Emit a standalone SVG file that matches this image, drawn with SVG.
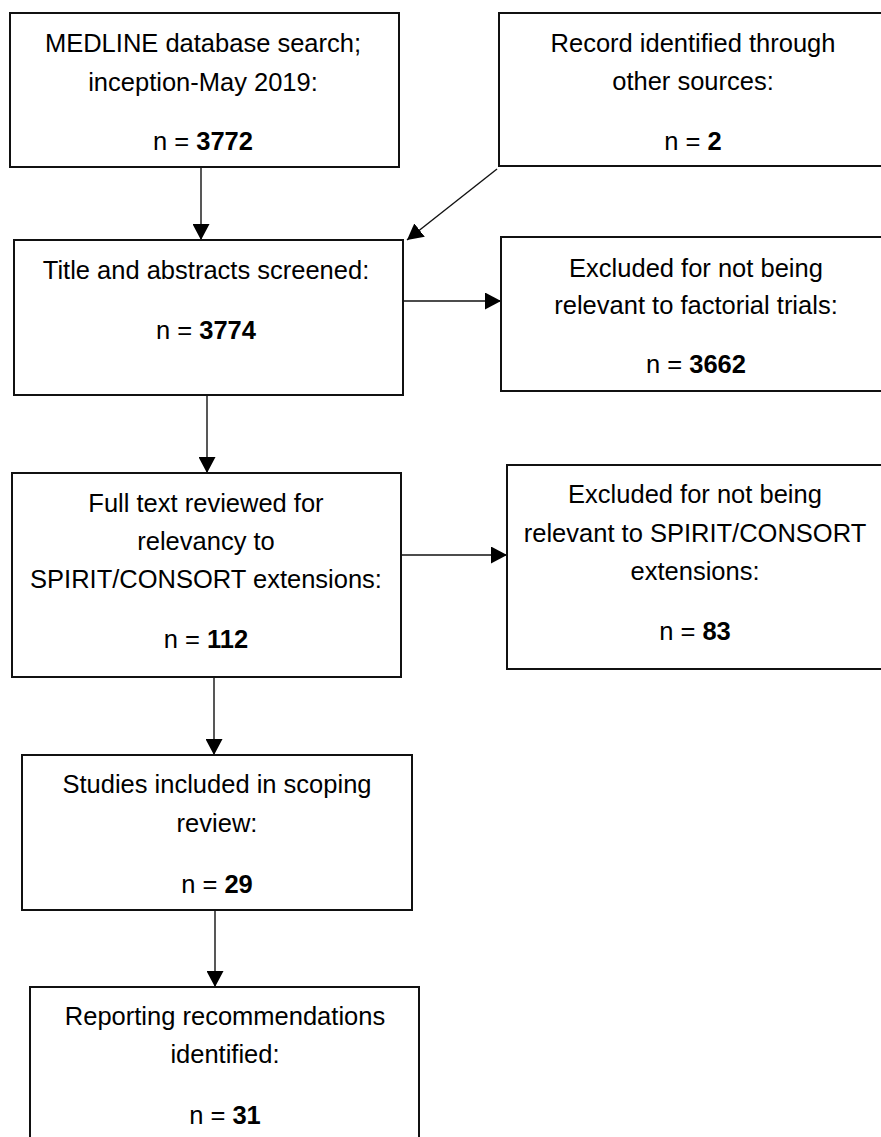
<svg xmlns="http://www.w3.org/2000/svg" width="881" height="1137" viewBox="0 0 881 1137">
<style>
.box{fill:#fff;stroke:#111;stroke-width:2}
.t{font-family:"Liberation Sans",Arial,sans-serif;font-size:25.5px;text-anchor:middle;fill:#000}
.b{font-weight:bold}
.c{stroke:#111;stroke-width:1.4;fill:none}
</style>
<defs>
<marker id="ah" markerUnits="userSpaceOnUse" markerWidth="16" markerHeight="17" refX="16" refY="8.5" orient="auto" viewBox="0 0 16 17">
<path d="M0,0 L16,8.5 L0,17 z" fill="#000"/>
</marker>
</defs>
<rect width="881" height="1137" fill="#fff"/>
<g id="connectors">
<line class="c" x1="201" y1="167" x2="201" y2="240" marker-end="url(#ah)"/>
<line class="c" x1="497" y1="169" x2="407" y2="240" marker-end="url(#ah)"/>
<line class="c" x1="403" y1="301" x2="501" y2="301" marker-end="url(#ah)"/>
<line class="c" x1="207" y1="395" x2="207" y2="473" marker-end="url(#ah)"/>
<line class="c" x1="401" y1="555" x2="507" y2="555" marker-end="url(#ah)"/>
<line class="c" x1="214" y1="677" x2="214" y2="755" marker-end="url(#ah)"/>
<line class="c" x1="215" y1="910" x2="215" y2="987" marker-end="url(#ah)"/>
</g>
<g id="n1">
<rect class="box" x="10" y="13" width="389" height="154"/>
<text class="t" x="203" y="52">MEDLINE database search;</text>
<text class="t" x="203" y="91">inception-May 2019:</text>
<text class="t" x="203" y="150">n = <tspan class="b">3772</tspan></text>
</g>
<g id="n2">
<rect class="box" x="499" y="13" width="390" height="153"/>
<text class="t" x="693" y="52">Record identified through</text>
<text class="t" x="693" y="90">other sources:</text>
<text class="t" x="693" y="150">n = <tspan class="b">2</tspan></text>
</g>
<g id="n3">
<rect class="box" x="14" y="240" width="389" height="155"/>
<text class="t" x="206" y="279">Title and abstracts screened:</text>
<text class="t" x="206" y="339">n = <tspan class="b">3774</tspan></text>
</g>
<g id="n4">
<rect class="box" x="501" y="237" width="390" height="154"/>
<text class="t" x="696" y="277">Excluded for not being</text>
<text class="t" x="696" y="314">relevant to factorial trials:</text>
<text class="t" x="696" y="373">n = <tspan class="b">3662</tspan></text>
</g>
<g id="n5">
<rect class="box" x="12" y="473" width="389" height="204"/>
<text class="t" x="206" y="512">Full text reviewed for</text>
<text class="t" x="206" y="550">relevancy to</text>
<text class="t" x="206" y="588">SPIRIT/CONSORT extensions:</text>
<text class="t" x="206" y="648">n = <tspan class="b">112</tspan></text>
</g>
<g id="n6">
<rect class="box" x="507" y="465" width="390" height="204"/>
<text class="t" x="695" y="503">Excluded for not being</text>
<text class="t" x="695" y="542">relevant to SPIRIT/CONSORT</text>
<text class="t" x="695" y="580">extensions:</text>
<text class="t" x="695" y="640">n = <tspan class="b">83</tspan></text>
</g>
<g id="n7">
<rect class="box" x="22" y="755" width="390" height="155"/>
<text class="t" x="217" y="793">Studies included in scoping</text>
<text class="t" x="217" y="832">review:</text>
<text class="t" x="217" y="893">n = <tspan class="b">29</tspan></text>
</g>
<g id="n8">
<rect class="box" x="30" y="987" width="389" height="170"/>
<text class="t" x="225" y="1025">Reporting recommendations</text>
<text class="t" x="225" y="1063">identified:</text>
<text class="t" x="225" y="1124">n = <tspan class="b">31</tspan></text>
</g>
</svg>
